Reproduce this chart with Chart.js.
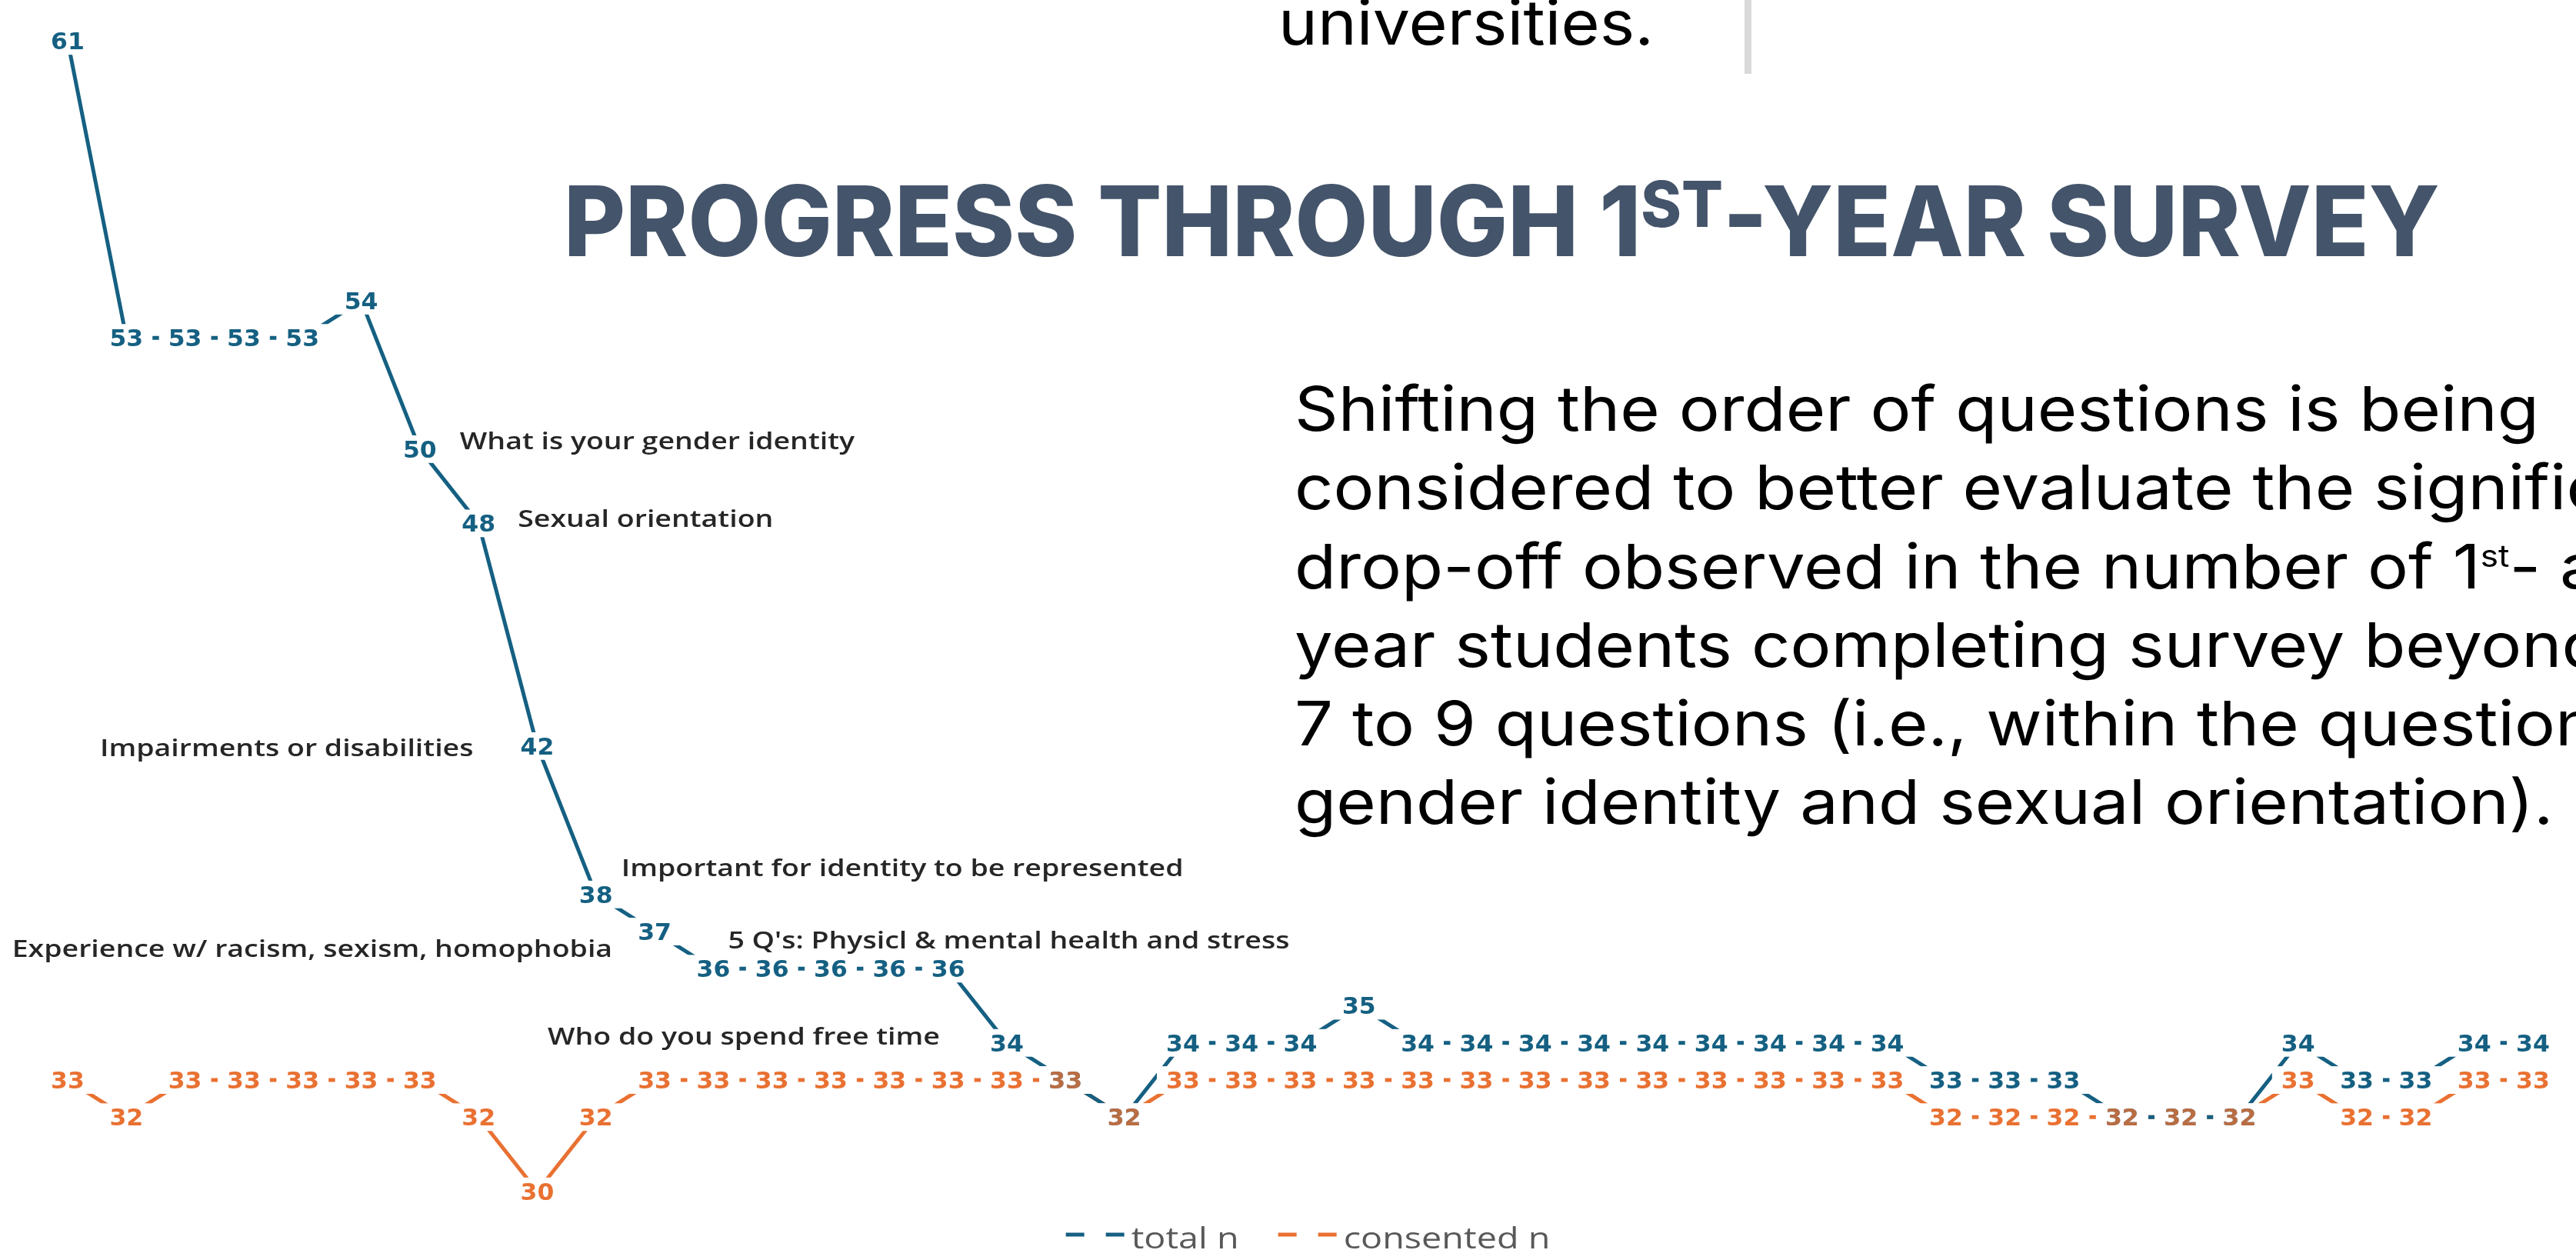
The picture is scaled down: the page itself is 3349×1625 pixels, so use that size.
<!DOCTYPE html>
<html><head><meta charset="utf-8">
<script src="https://cdn.jsdelivr.net/npm/chart.js@4.4.1/dist/chart.umd.min.js"></script>
<style>
html,body{margin:0;padding:0;background:#fff;overflow:hidden;width:3349px;height:1625px;}
#wrap{position:relative;width:3349px;height:1625px;overflow:hidden;background:#fff;}
#chart{position:absolute;left:0;top:0;}
.txt{position:absolute;white-space:nowrap;transform-origin:0 0;}
#univ{font-family:"Inter";font-weight:400;font-size:80px;color:#000;}
#bar{position:absolute;left:2268px;top:0;width:9px;height:96px;background:#d9d9d9;}
#title{font-family:"Inter";font-weight:800;font-size:127px;color:#44546A;}
#title .sup{font-size:0.65em;position:relative;top:-0.46em;}
#body{font-family:"Inter";font-weight:400;font-size:80px;line-height:102.3px;color:#000;}
#body sup{font-size:0.5em;line-height:0;}
.bl{display:inline-block;width:0;height:0;vertical-align:baseline;}
</style></head>
<body><div id="wrap">
<canvas id="chart" width="3349" height="1625"></canvas>
<div class="txt" id="univ"><span class="fit">universities.</span><span class="bl"></span></div>
<div id="bar"></div>
<div class="txt" id="title"><span class="fit">PROGRESS THROUGH 1<span class="sup">ST</span>-YEAR SURVEY</span><span class="bl"></span></div>
<div class="txt" id="body"><span class="fit">Shifting the order of questions is being</span><span class="bl"></span><br>considered to better evaluate the significant<br>drop-off observed in the number of 1<sup>st</sup>- and<br>year students completing survey beyond<br>7 to 9 questions (i.e., within the questions on<br>gender identity and sexual orientation).</div>
</div>
<script>
// ---- data ----
const questions = ['1','2','3','4','5','6','7','8','9','10','11','12','13','14','15','16','17','18','19','20','21','22','23','24','25','26','27','28','29','30','31','32','33','34','35','36','37','38','39','40','41','42','43'];
const totalN = [61,53,53,53,53,54,50,48,42,38,37,36,36,36,36,36,34,33,32,34,34,34,35,34,34,34,34,34,34,34,34,34,33,33,33,32,32,32,34,33,33,34,34];
const consentedN = [33,32,33,33,33,33,33,32,30,32,33,33,33,33,33,33,33,33,32,33,33,33,33,33,33,33,33,33,33,33,33,33,32,32,32,32,32,32,33,32,32,33,33];
const seriesNames = ['total n', 'consented n'];
const noteTexts = ['What is your gender identity','Sexual orientation','Impairments or disabilities','Important for identity to be represented','Experience w/ racism, sexism, homophobia',"5 Q's: Physicl & mental health and stress",'Who do you spend free time'];
const noteQuestion = [6,7,8,9,10,11,16]; // index into questions

// ---- styles ----
const BLUE = '#156082', ORANGE = '#E97132';
const noteLayout = [
  {dx: 52, dy: -11, side: 'left'},
  {dx: 51, dy: -6, side: 'left'},
  {dx: -83, dy: 2, side: 'right'},
  {dx: 33, dy: -35, side: 'left'},
  {dx: -55, dy: 22, side: 'right'},
  {dx: 19, dy: -37, side: 'left'},
  {dx: -87, dy: -8, side: 'right'}
];

function drawStretched(ctx, text, x, baseline, sx, align) {
  const w = ctx.measureText(text).width * sx;
  const left = align === 'right' ? x - w : (align === 'center' ? x - w / 2 : x);
  ctx.save();
  ctx.translate(left, baseline);
  ctx.scale(sx, 1);
  ctx.textAlign = 'left';
  ctx.textBaseline = 'alphabetic';
  ctx.fillText(text, 0, 0);
  ctx.restore();
  return w;
}

const valueLabels = {
  id: 'valueLabels',
  afterDatasetsDraw(chart) {
    const ctx = chart.ctx;
    const fs = 30, sx = 1.05, cap = 0.729 * fs, padX = 12, padY = 7;
    ctx.save();
    ctx.font = 'bold ' + fs + 'px "DejaVu Sans"';
    const items = [];
    chart.data.datasets.forEach((ds, di) => {
      chart.getDatasetMeta(di).data.forEach((pt, i) => {
        const text = String(ds.data[i]);
        items.push({x: pt.x, y: pt.y, w: ctx.measureText(text).width * sx, text, di, i, color: ds.borderColor});
      });
    });
    ctx.fillStyle = '#ffffff';
    items.forEach(it => ctx.fillRect(it.x - it.w / 2 - padX, it.y - cap / 2 - padY, it.w + 2 * padX, cap + 2 * padY));
    items.forEach(it => {
      const d = chart.data.datasets;
      const same = it.di === 1 && d[0].data[it.i] === d[1].data[it.i];
      ctx.globalAlpha = same ? 0.78 : 1;
      ctx.fillStyle = it.color;
      drawStretched(ctx, it.text, it.x, it.y + cap / 2, sx, 'center');
    });
    ctx.globalAlpha = 1;
    // question notes
    const nfs = 30, nsx = 1.25, ncap = 0.714 * nfs;
    ctx.font = '600 ' + nfs + 'px "Open Sans"';
    ctx.fillStyle = '#262626';
    const meta = chart.getDatasetMeta(0);
    noteTexts.forEach((t, k) => {
      const pt = meta.data[noteQuestion[k]];
      const L = noteLayout[k];
      drawStretched(ctx, t, pt.x + L.dx, pt.y + L.dy + ncap / 2, nsx, L.side);
    });
    ctx.restore();
  }
};

const bottomLegend = {
  id: 'bottomLegend',
  afterDraw(chart) {
    const ctx = chart.ctx;
    const fs = 38, sx = 1.23, symW = 80, symGap = 5, itemGap = 51, lineY = 1605, baseY = 1623;
    ctx.save();
    ctx.font = '400 ' + fs + 'px "Open Sans"';
    const ds = chart.data.datasets;
    const widths = ds.map(d => symW + symGap + ctx.measureText(d.label).width * sx);
    const total = widths.reduce((a, b) => a + b, 0) + itemGap * (ds.length - 1);
    let x = (chart.chartArea.left + chart.chartArea.right) / 2 - total / 2 + 10;
    ds.forEach((d, k) => {
      ctx.strokeStyle = d.borderColor;
      ctx.lineWidth = 5;
      ctx.setLineDash([24, 28]);
      ctx.beginPath();
      ctx.moveTo(x, lineY);
      ctx.lineTo(x + symW, lineY);
      ctx.stroke();
      ctx.setLineDash([]);
      ctx.fillStyle = '#595959';
      drawStretched(ctx, d.label, x + symW + symGap, baseY, sx, 'left');
      x += widths[k] + itemGap;
    });
    ctx.restore();
  }
};

new Chart(document.getElementById('chart'), {
  type: 'line',
  data: {
    labels: questions,
    datasets: [
      {label: seriesNames[0], data: totalN, borderColor: BLUE, backgroundColor: BLUE},
      {label: seriesNames[1], data: consentedN, borderColor: ORANGE, backgroundColor: ORANGE}
    ]
  },
  options: {
    responsive: false,
    animation: false,
    devicePixelRatio: 1,
    layout: {padding: {left: 88, right: 56, top: 5, bottom: 28}},
    plugins: {legend: {display: false}, tooltip: {enabled: false}, title: {display: false}},
    elements: {
      line: {tension: 0, borderWidth: 5, borderCapStyle: 'butt', fill: false},
      point: {radius: 0, hoverRadius: 0}
    },
    scales: {
      x: {type: 'category', display: false, offset: false},
      y: {type: 'linear', display: false, min: 29, max: 62}
    }
  },
  plugins: [valueLabels, bottomLegend]
});

// ---- slide text placement ----
function place(id, left, baseline, targetWidth) {
  const el = document.getElementById(id);
  el.style.transform = 'none';
  el.style.left = left + 'px';
  el.style.top = '0px';
  const off = el.querySelector('.bl').offsetTop;
  el.style.top = (baseline - off) + 'px';
  const w = el.querySelector('.fit').getBoundingClientRect().width;
  el.style.transform = 'scaleX(' + (targetWidth / w) + ')';
}
function layoutText() {
  place('title', 733, 333, 2439);
  place('body', 1683, 560, 1618);
  place('univ', 1662, 58, 488);
}
layoutText();
if (document.fonts && document.fonts.ready) document.fonts.ready.then(layoutText);
</script>
</body></html>
